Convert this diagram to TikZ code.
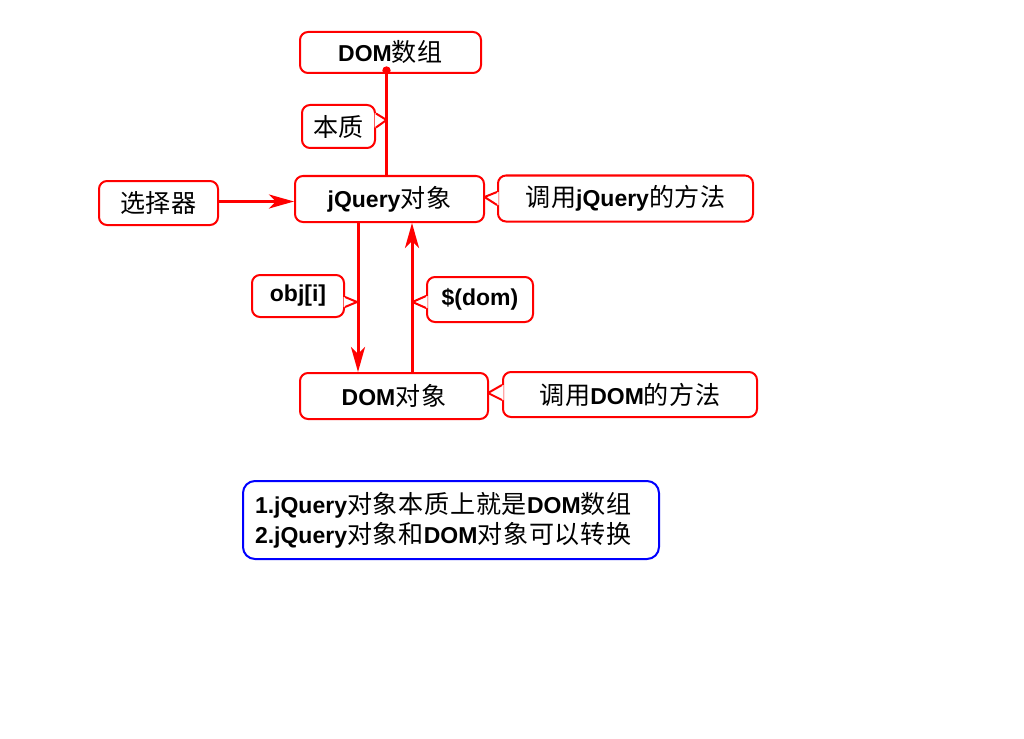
\documentclass[tikz,border=0pt]{standalone}
\usepackage{fontspec}
\setmainfont{Liberation Sans}
\newfontfamily\cjk[Scale=1.09,LetterSpace=3]{Noto Sans CJK SC}
\newcommand\zh[1]{{\cjk\mdseries #1}}
\usetikzlibrary{arrows.meta}
\begin{document}
\begin{tikzpicture}[x=1pt,y=-1pt,
  font=\fontsize{23}{30}\selectfont\bfseries,
  box/.style={draw=red, line width=2pt, rounded corners=8pt, fill=white, inner sep=0pt, align=center},
  conn/.style={draw=red, line width=3pt},
  arr/.style={conn, -{Stealth[length=25pt,width=14pt,inset=7pt]}},
  ptrfill/.style={fill=white},
  ptrline/.style={draw=red, line width=2pt, line join=round}]
\useasboundingbox (0,0) rectangle (1024,738);
% boxes
\node[box, minimum width=181pt, minimum height=41pt] (dom) at (390.5,52.5) {DOM\zh{数组}};
\node[box, minimum width=73pt, minimum height=43pt] (bz) at (338.5,126.5) {\zh{本质}};
\node[box, minimum width=189pt, minimum height=46pt] (jq) at (389.5,199) {jQuery\zh{对象}};
\node[box, minimum width=255pt, minimum height=46pt] (cjq) at (625.5,198.5) {\zh{调用}jQuery\zh{的方法}};
\node[box, minimum width=119pt, minimum height=44pt] (sel) at (158.5,203) {\zh{选择器}};
\node[box, minimum width=92pt, minimum height=42pt] (obj) at (298,296) {obj[i]};
\node[box, minimum width=106pt, minimum height=45pt] (dd) at (480,299.5) {\$(dom)};
\node[box, minimum width=188pt, minimum height=46pt] (domo) at (394,396) {DOM\zh{对象}};
\node[box, minimum width=254pt, minimum height=45pt] (cdom) at (630,394.5) {\zh{调用}DOM\zh{的方法}};
\node[box, draw=blue, rounded corners=12pt, minimum height=78pt, text width=392pt, inner xsep=12pt, align=left] (note) at (451,520)
  {1.jQuery\zh{对象本质上就是}DOM\zh{数组}\\2.jQuery\zh{对象和}DOM\zh{对象可以转换}};
% connectors
\coordinate (dot) at ([xshift=-4pt,yshift=3.5pt]dom.south);
\draw[conn] (dot) -- (dot |- jq.north);
\fill[red] (dot) circle (4.2pt);
\draw[arr] ([yshift=1.5pt]sel.east) -- ([yshift=1.5pt]sel.east -| jq.west);
\draw[arr] ([xshift=-31.5pt]jq.south) -- ([xshift=-31.5pt]jq.south |- domo.north);
\draw[arr] ([xshift=18pt]domo.north) -- ([xshift=18pt]domo.north |- jq.south);
% callout pointers
\coordinate (t1) at (386.5,120);
\coordinate (t2) at (357,302);
\coordinate (t3) at (412.5,302);
\coordinate (t4) at (484.5,197);
\coordinate (t5) at (488,393);
\fill[ptrfill] ([xshift=-1.5pt,yshift=13pt]bz.east) -- ([yshift=13pt]bz.east) -- (t1) -- ([yshift=-1pt]bz.east) -- ([xshift=-1.5pt,yshift=-1pt]bz.east) -- cycle;
\draw[ptrline] ([yshift=13pt]bz.east) -- (t1) -- ([yshift=-1pt]bz.east);
\fill[ptrfill] ([xshift=-1.5pt,yshift=-1pt]obj.east) -- ([yshift=-1pt]obj.east) -- (t2) -- ([yshift=-11pt]obj.east) -- ([xshift=-1.5pt,yshift=-11pt]obj.east) -- cycle;
\draw[ptrline] ([yshift=-1pt]obj.east) -- (t2) -- ([yshift=-11pt]obj.east);
\fill[ptrfill] ([xshift=1.5pt,yshift=3.5pt]dd.west) -- ([yshift=3.5pt]dd.west) -- (t3) -- ([yshift=-8.5pt]dd.west) -- ([xshift=1.5pt,yshift=-8.5pt]dd.west) -- cycle;
\draw[ptrline] ([yshift=3.5pt]dd.west) -- (t3) -- ([yshift=-8.5pt]dd.west);
\fill[ptrfill] ([xshift=1.5pt,yshift=6.5pt]cjq.west) -- ([yshift=6.5pt]cjq.west) -- (t4) -- ([yshift=-6.5pt]cjq.west) -- ([xshift=1.5pt,yshift=-6.5pt]cjq.west) -- cycle;
\draw[ptrline] ([yshift=6.5pt]cjq.west) -- (t4) -- ([yshift=-6.5pt]cjq.west);
\fill[ptrfill] ([xshift=1.5pt,yshift=9.5pt]cdom.west) -- ([yshift=9.5pt]cdom.west) -- (t5) -- ([yshift=-5.5pt]cdom.west) -- ([xshift=1.5pt,yshift=-5.5pt]cdom.west) -- cycle;
\draw[ptrline] ([yshift=9.5pt]cdom.west) -- (t5) -- ([yshift=-5.5pt]cdom.west);
\end{tikzpicture}
\end{document}
